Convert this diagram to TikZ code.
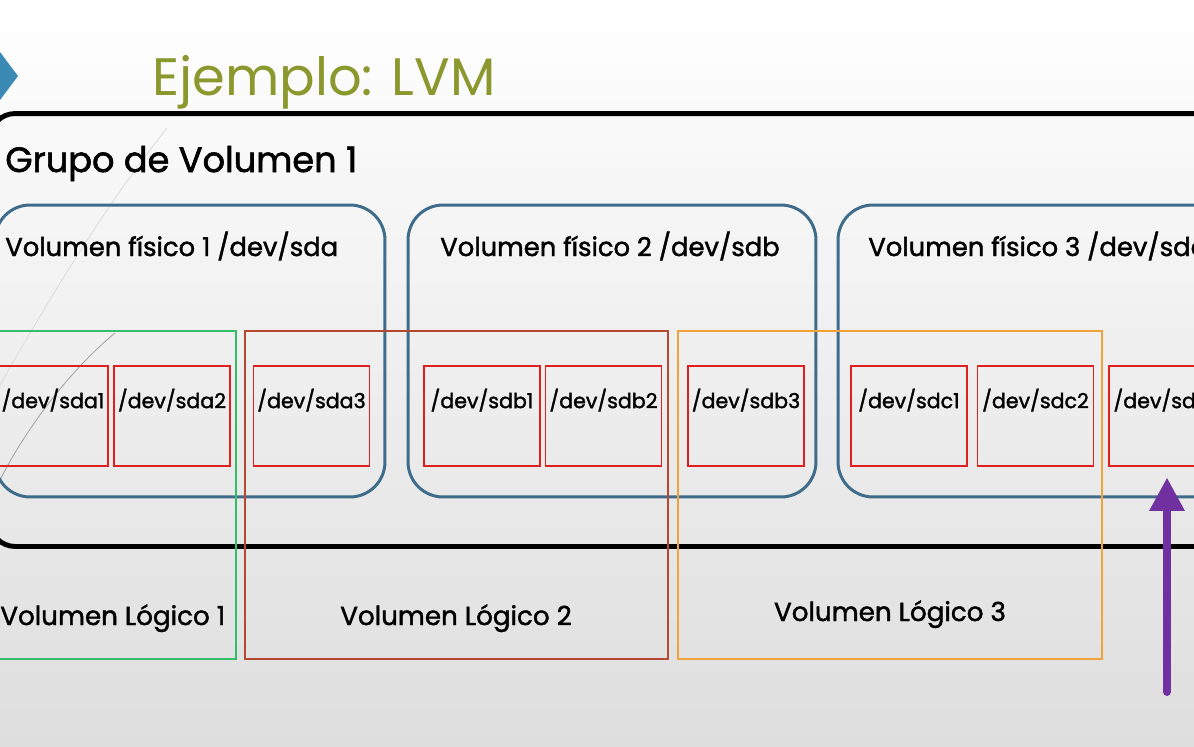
\documentclass[tikz,border=0pt]{standalone}
\usepackage{fontspec}
\setmainfont{Poppins}
\newfontfamily\medfont{Poppins}[FakeBold=1.6]
\usetikzlibrary{positioning,arrows.meta}

\definecolor{titlegreen}{RGB}{138,152,46}
\definecolor{chevblue}{RGB}{58,138,181}
\definecolor{pvblue}{RGB}{62,108,138}
\definecolor{partred}{RGB}{224,32,30}
\definecolor{lvgreen}{RGB}{50,190,105}
\definecolor{lvbrown}{RGB}{180,72,48}
\definecolor{lvorange}{RGB}{240,163,58}
\definecolor{arrowpurple}{RGB}{112,48,160}

\begin{document}
\begin{tikzpicture}[x=0.02cm, y=-0.02cm,
  group/.style={draw, line width=2.8pt, rounded corners=0.5cm, minimum width=25.2cm, minimum height=8.66cm},
  pv/.style={draw=pvblue, line width=1.7pt, rounded corners=0.7cm, minimum height=5.84cm},
  lv/.style={draw, line width=1.1pt, minimum height=6.56cm},
  part/.style={draw=partred, line width=1.1pt, minimum width=2.32cm, minimum height=2cm,
    font=\medfont\fontsize{11.7}{14}\selectfont, text height=9pt, text depth=18pt, inner sep=0pt},
  grouptxt/.style={font=\medfont\fontsize{20}{23}\selectfont, inner sep=0pt},
  pvtxt/.style={font=\medfont\fontsize{14.7}{17}\selectfont, inner sep=0pt},
  lvtxt/.style={font=\medfont\fontsize{14.9}{17}\selectfont, inner sep=0pt},
  lvmarrow/.style={draw=arrowpurple, line width=4.5pt, line cap=round,
    -{Triangle[width=19pt, length=19pt]}, shorten >=6pt}]

\useasboundingbox (0,0) rectangle (1194,747);
\clip (0,0) rectangle (1194,747);

% ---------- Slide background ----------
\shade[top color=white, bottom color=black!13] (0,0) rectangle (1194,747);
\draw[gray!30, line width=0.4pt] (167,128) .. controls (110,200) and (60,280) .. (0,385);
\draw[gray!70, line width=0.5pt] (115,333) .. controls (70,370) and (25,430) .. (0,480);
\fill[chevblue] (0,52) -- (18,76) -- (0,100) -- cycle;

% Title
\node[anchor=base west, text=titlegreen, font=\fontsize{30}{36}\selectfont, inner sep=0pt]
  (title) at (152,95) {Ejemplo: LVM};

% ---------- Volume group ----------
\node[group] (vg) at (620,330) {};
\node[grouptxt, anchor=base west] (vgtxt) at (5,172) {Grupo de Volumen 1};

% Physical volumes
\node[pv, minimum width=7.8cm] (pv1) at (190,351) {};
\node[pv, minimum width=8.16cm] (pv2) at (612,351) {};
\node[pv, minimum width=8.16cm] (pv3) at (1042,351) {};

\node[pvtxt, anchor=base west] (pv1txt) at (5,256) {Volumen físico 1 /dev/sda};
\node[pvtxt, anchor=base] (pv2txt) at (610,256) {Volumen físico 2 /dev/sdb};
\node[pvtxt, anchor=base west] (pv3txt) at (868,256) {Volumen físico 3 /dev/sdc};

% ---------- Logical volumes ----------
\node[lv, draw=lvgreen, minimum width=4.82cm] (lv1) at (115.5,495) {};
\node[lv, draw=lvbrown, minimum width=8.46cm] (lv2) at (456.5,495) {};
\node[lv, draw=lvorange, minimum width=8.48cm] (lv3) at (890,495) {};

\node[lvtxt, anchor=base west] (lv1txt) at (0,625) {Volumen Lógico 1};
\node[lvtxt, anchor=base] (lv2txt) at (456,625) {Volumen Lógico 2};
\node[lvtxt, anchor=base] (lv3txt) at (890,621) {Volumen Lógico 3};

% Partitions
\node[part, minimum width=2.2cm] (sda1) at (53,416) {/dev/sda1};
\node[part] (sda2) at (172,416) {/dev/sda2};
\node[part] (sda3) at (311.5,416) {/dev/sda3};
\node[part] (sdb1) at (482,416) {/dev/sdb1};
\node[part] (sdb2) at (603.5,416) {/dev/sdb2};
\node[part] (sdb3) at (746,416) {/dev/sdb3};
\node[part] (sdc1) at (909,416) {/dev/sdc1};
\node[part] (sdc2) at (1035.5,416) {/dev/sdc2};
\node[part] (sdc3) at (1167,416) {/dev/sdc3};

% Arrow
\coordinate (tail) at (1167,692);
\draw[lvmarrow] (tail) -- (sdc3.south);

\end{tikzpicture}
\end{document}
